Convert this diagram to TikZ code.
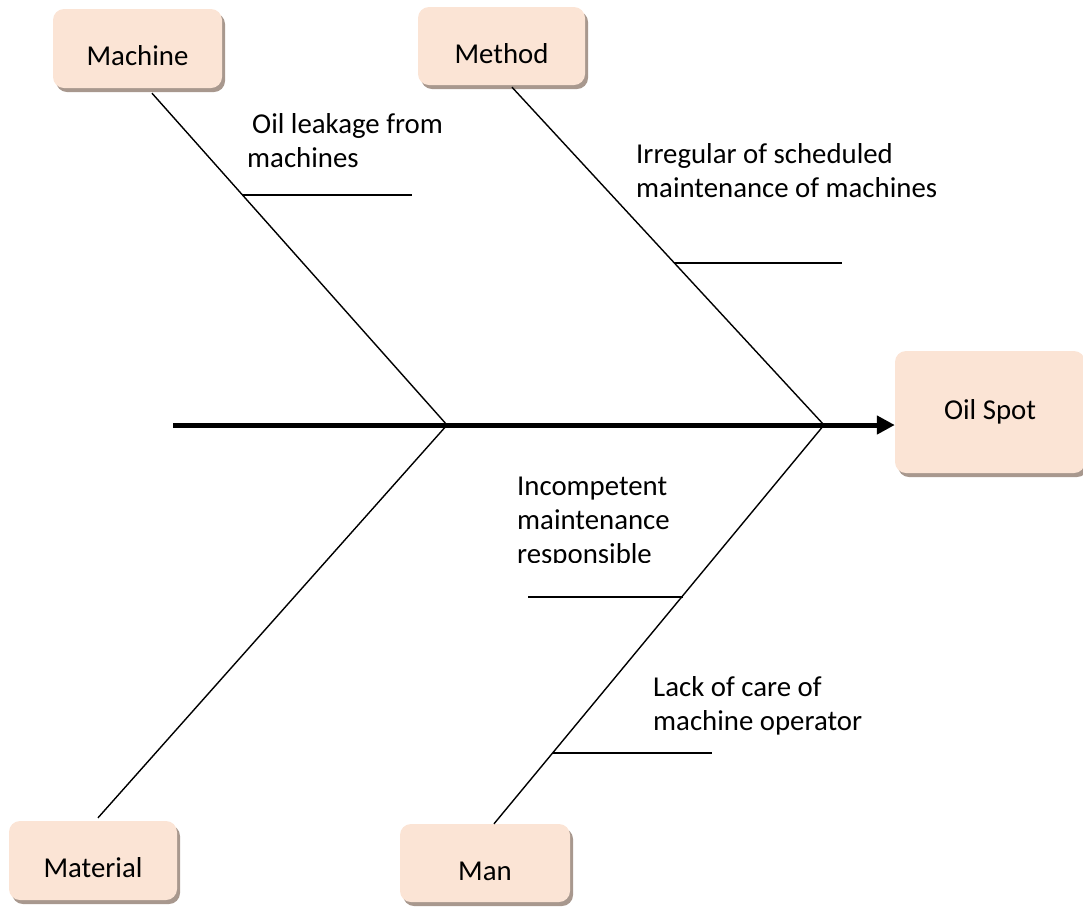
\documentclass[tikz,border=0pt]{standalone}
\usepackage{fontspec}
\setmainfont{Carlito}
\usetikzlibrary{arrows.meta,shadows}
\definecolor{boxfill}{HTML}{FBE4D5}
\definecolor{boxshade}{RGB}{168,152,142}
\newcommand{\causetext}[1]{\begin{tabular}[t]{@{}l@{}}#1\end{tabular}}
\begin{document}
\begin{tikzpicture}[x=1pt,y=-1pt,
  cat/.style={rounded corners=11pt, fill=boxfill, inner sep=0pt,
    font=\fontsize{28.8}{34.5}\selectfont,
    drop shadow={shadow xshift=3pt, shadow yshift=-4pt, fill=boxshade, opacity=1}},
  catlow/.style={cat, text height=36pt, text depth=2pt},
  bone/.style={line width=1.4pt},
  spine/.style={line width=5pt, -{Triangle[length=18pt,width=18pt]}},
  cause/.style={anchor=base west, inner sep=0pt, font=\fontsize{28.8}{34}\selectfont}
]
\useasboundingbox (0,0) rectangle (1083,906);

% category boxes
\node[catlow, minimum width=169pt, minimum height=79pt] (machine) at (137.5,48.5) {Machine};
\node[catlow, minimum width=167pt, minimum height=78pt] (method) at (501.5,46) {Method};
\node[cat, minimum width=190pt, minimum height=122pt] (oilspot) at (990,412) {Oil Spot};
\node[catlow, minimum width=168pt, minimum height=79pt] (material) at (93,860.5) {Material};
\node[catlow, minimum width=170pt, minimum height=78pt] (man) at (485,863) {Man};

% spine and junctions
\coordinate (tail) at (173,425);
\coordinate (jL) at (447,425);
\coordinate (jR) at (824,425);

% main bones
\draw[bone] ([xshift=14.5pt,yshift=-5pt]machine.south) -- (jL);
\draw[bone] ([xshift=10.5pt,yshift=-2pt]method.south) -- (jR);
\draw[bone] ([xshift=5pt,yshift=3pt]material.north) -- (jL);
\draw[bone] ([xshift=9pt]man.north) -- (jR);
\draw[spine] (tail) -- (oilspot.west |- tail);

% cause branches
\coordinate (c1a) at (243,195);  \coordinate (c1b) at (412,195);
\coordinate (c2a) at (674,263);  \coordinate (c2b) at (842,263);
\coordinate (c3a) at (528,597);  \coordinate (c3b) at (683,597);
\coordinate (c4a) at (553,753);  \coordinate (c4b) at (712,753);
\draw[bone] (c1a) -- (c1b);
\draw[bone] (c2a) -- (c2b);
\draw[bone] (c3b) -- (c3a);
\draw[bone] (c4a) -- (c4b);

% cause labels
\node[cause] (leak) at (247,133) {\causetext{\hspace{5pt}Oil leakage from\\machines}};
\node[cause] (sched) at (636,163) {\causetext{Irregular of scheduled\\maintenance of machines}};
\begin{scope}
  \clip (400,450) rectangle (800,562);
  \node[cause] (staff) at (517,495) {\causetext{Incompetent\\maintenance\\responsible}};
\end{scope}
\node[cause] (care) at (653,696) {\causetext{Lack of care of\\machine operator}};
\end{tikzpicture}
\end{document}
